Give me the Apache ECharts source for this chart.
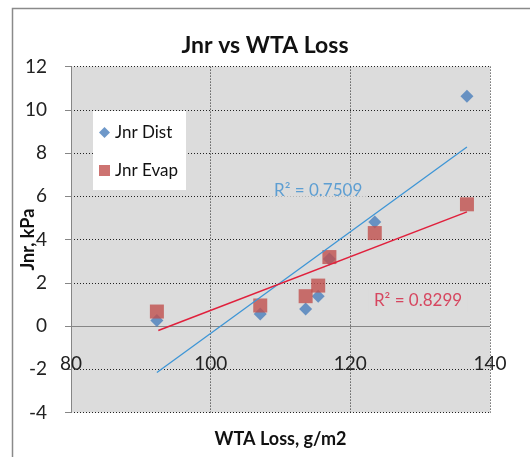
<!DOCTYPE html>
<html>
<head>
<meta charset="utf-8">
<script src="https://cdn.jsdelivr.net/npm/echarts@6/dist/echarts.min.js"></script>
<style>
  html, body { margin: 0; padding: 0; background: #fff; }
  #chart { width: 530px; height: 457px; }
</style>
</head>
<body>
<div id="chart"></div>
<script>
// 数据
var wtaLoss  = [92.3, 107.1, 113.6, 115.4, 117.0, 123.5, 136.7]
var jnrDist  = [0.25, 0.56, 0.79, 1.38, 3.1, 4.81, 10.63]
var jnrEvap  = [0.67, 0.95, 1.38, 1.87, 3.19, 4.30, 5.63]

// 趋势线端点
var distTrend = [[92.3, -2.15], [136.7, 8.28]]
var evapTrend = [[92.5, -0.21], [136.7, 5.28]]

// R² 标签
var distR2 = { pos: [115.4, 6.28], text: 'R² = 0.7509' }
var evapR2 = { pos: [129.7, 1.18], text: 'R² = 0.8299' }

var font = 'Lato'
var plotBg = '#dcdcdc'

function pairs(xs, ys) {
	return xs.map(function(x, i) { return [x, ys[i]] })
}

var chart = echarts.init(document.getElementById('chart'))

var option = {}
option.animation = false
option.backgroundColor = '#fff'

option.title = {
	text: 'Jnr vs WTA Loss',
	left: 'center',
	top: 29,
	textStyle: { fontFamily: font, fontSize: 23, fontWeight: 'bold', color: '#111' }
}

option.legend = {
	orient: 'vertical',
	left: 93,
	top: 111,
	backgroundColor: '#fff',
	padding: [13, 8, 11, 6],
	itemGap: 21,
	itemWidth: 11,
	itemHeight: 11,
	textStyle: { fontFamily: font, fontSize: 17, color: '#111' },
	data: [
		{ name: 'Jnr Dist', icon: 'diamond' },
		{ name: 'Jnr Evap', icon: 'rect' }
	]
}

option.grid = {
	left: 71,
	right: 40,
	top: 66.6,
	bottom: 44.5,
	containLabel: false,
	outerBoundsMode: 'none',
	show: true,
	backgroundColor: plotBg,
	borderWidth: 0
}

var dotted = { color: '#222', type: [1, 2], width: 1 }

option.xAxis = {
	type: 'value',
	min: 80,
	max: 140,
	interval: 20,
	name: 'WTA Loss, g/m2',
	nameLocation: 'middle',
	nameGap: 18,
	nameTextStyle: { fontFamily: font, fontSize: 18, fontWeight: 'bold', color: '#111' },
	axisLine: { show: false, onZero: false },
	axisTick: { show: false },
	axisLabel: { inside: true, margin: 39, fontFamily: font, fontSize: 19, color: '#222' },
	splitLine: { show: true, lineStyle: dotted }
}

option.yAxis = {
	type: 'value',
	min: -4,
	max: 12,
	interval: 2,
	name: 'Jnr, kPa',
	nameLocation: 'middle',
	nameGap: 34,
	nameRotate: 90,
	nameMoveOverlap: false,
	nameTextStyle: { fontFamily: font, fontSize: 18, fontWeight: 'bold', color: '#111' },
	axisLine: { show: true, lineStyle: { color: '#868686', width: 1 } },
	axisTick: { show: true, length: 6, lineStyle: { color: '#868686' } },
	axisLabel: { margin: 24, fontFamily: font, fontSize: 19, color: '#222' },
	splitLine: { show: true, lineStyle: dotted }
}

function r2Label(r, color) {
	return {
		type: 'scatter',
		silent: true,
		symbolSize: 1,
		itemStyle: { color: 'rgba(0,0,0,0)' },
		label: {
			show: true,
			position: 'inside',
			formatter: r.text,
			fontFamily: font,
			fontSize: 17,
			color: color,
			backgroundColor: plotBg,
			padding: [3, 5]
		},
		data: [r.pos],
		z: 5
	}
}

option.series = [{
	name: 'Jnr Dist',
	type: 'scatter',
	symbol: 'diamond',
	symbolSize: 13,
	itemStyle: { color: '#4a7ebb' },
	data: pairs(wtaLoss, jnrDist),
	// 零线 (实线)
	markLine: {
		silent: true,
		symbol: ['none', 'none'],
		label: { show: false },
		lineStyle: { color: '#868686', type: 'solid', width: 1 },
		data: [{ yAxis: 0 }],
		z: 2
	},
	z: 3
}, {
	name: 'Jnr Evap',
	type: 'scatter',
	symbol: 'rect',
	symbolSize: 14,
	itemStyle: { color: '#c0504d' },
	data: pairs(wtaLoss, jnrEvap),
	z: 3
}, {
	name: 'distTrend',
	type: 'line',
	symbol: 'none',
	silent: true,
	lineStyle: { color: '#3d95d6', width: 1.3 },
	data: distTrend,
	z: 4
}, {
	name: 'evapTrend',
	type: 'line',
	symbol: 'none',
	silent: true,
	lineStyle: { color: '#e0203c', width: 1.6 },
	data: evapTrend,
	z: 4
},
	r2Label(distR2, '#3d8fd0'),
	r2Label(evapR2, '#d42040')
]

// 外框
option.graphic = [{
	type: 'rect',
	silent: true,
	shape: { x: 12.5, y: 8.5, width: 600, height: 600 },
	style: { fill: null, stroke: '#8a8a8a', lineWidth: 1.5 },
	z: 100
}]

chart.setOption(option)
</script>
</body>
</html>
